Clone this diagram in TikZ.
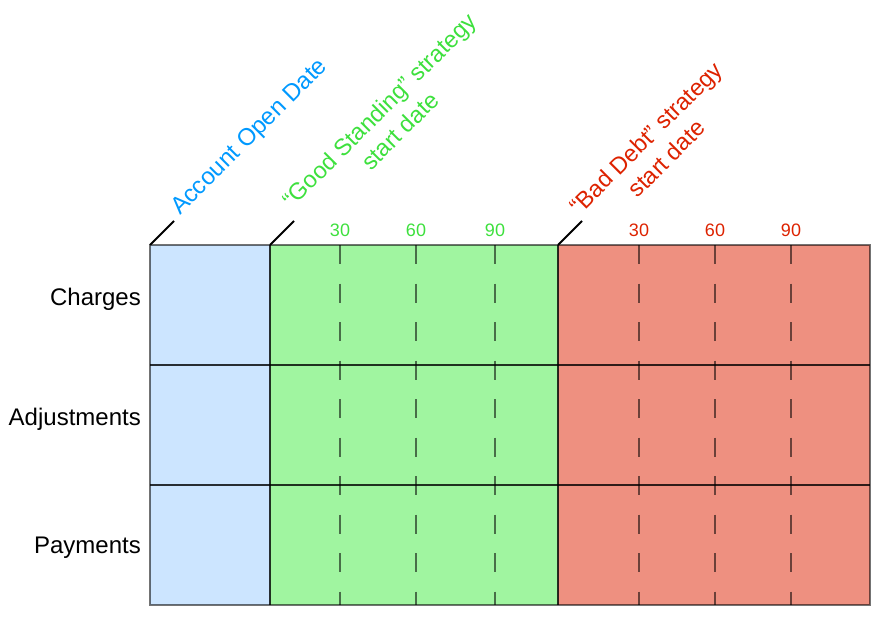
\documentclass[tikz,border=0pt]{standalone}
\usepackage{fontspec}
\setmainfont{Liberation Sans}
\definecolor{cblue}{HTML}{CCE5FF}
\definecolor{cgreen}{HTML}{A0F5A0}
\definecolor{cred}{HTML}{EE9080}
\definecolor{tblue}{HTML}{0099FF}
\definecolor{tgreen}{HTML}{3DE03D}
\definecolor{tred}{HTML}{DD2200}
\begin{document}
\begin{tikzpicture}[x=1bp,y=-1bp,
  rowlabel/.style={font=\fontsize{24bp}{27.6bp}\selectfont, anchor=base east, inner sep=0pt, text=black},
  daynum/.style={font=\fontsize{18bp}{21bp}\selectfont, anchor=base, inner sep=0pt},
  datelabel/.style={font=\fontsize{23.5bp}{29bp}\selectfont, inner sep=0pt, rotate=45, align=center},
  dayline/.style={draw=black, draw opacity=0.55, line width=1.5bp, dash pattern=on 19bp off 19.5bp},
  gridline/.style={draw=black, draw opacity=0.8, line width=1.5bp},
  frameline/.style={draw=black, draw opacity=0.55, line width=1.5bp},
  tickline/.style={draw=black, line width=1.8bp}]
\useasboundingbox (0,0) rectangle (885,619);
% columns
\fill[cblue] (150,245) rectangle (270,605);
\fill[cgreen] (270,245) rectangle (558,605);
\fill[cred] (558,245) rectangle (870,605);
% day lines
\foreach \x in {340,416,495,639,715,791}
  \draw[dayline] (\x,245) -- (\x,605);
% grid
\draw[gridline] (150,365) -- (870,365);
\draw[gridline] (150,485) -- (870,485);
\draw[gridline] (270,245) -- (270,605);
\draw[gridline] (558,245) -- (558,605);
\draw[frameline] (150,245) rectangle (870,605);
% ticks
\coordinate (t1a) at (150,245); \coordinate (t1b) at (174,221);
\coordinate (t2a) at (270,245); \coordinate (t2b) at (294,221);
\coordinate (t3a) at (558,245); \coordinate (t3b) at (582,221);
\draw[tickline] (t1a) -- (t1b);
\draw[tickline] (t2a) -- (t2b);
\draw[tickline] (t3a) -- (t3b);
% row labels
\node[rowlabel] (charges) at (141,305) {Charges};
\node[rowlabel] (adjust) at (141,425) {Adjustments};
\node[rowlabel] (pay) at (141,553) {Payments};
% day numbers
\node[daynum, text=tgreen] (g30) at (340,236.7) {30};
\node[daynum, text=tgreen] (g60) at (416,236.7) {60};
\node[daynum, text=tgreen] (g90) at (495,236.7) {90};
\node[daynum, text=tred] (r30) at (639,236.7) {30};
\node[daynum, text=tred] (r60) at (715,236.7) {60};
\node[daynum, text=tred] (r90) at (791,236.7) {90};
% date labels
\node[datelabel, text=tblue, anchor=base west, font=\fontsize{24bp}{29bp}\selectfont] (open) at (180,216) {Account Open Date};
\node[datelabel, text=tgreen, anchor=north west] (good) at (280,197) {“Good Standing” strategy\\start date};
\node[datelabel, text=tred, anchor=north west] (bad) at (567.6,203.8) {“Bad Debt” strategy\\start date};
\end{tikzpicture}
\end{document}
